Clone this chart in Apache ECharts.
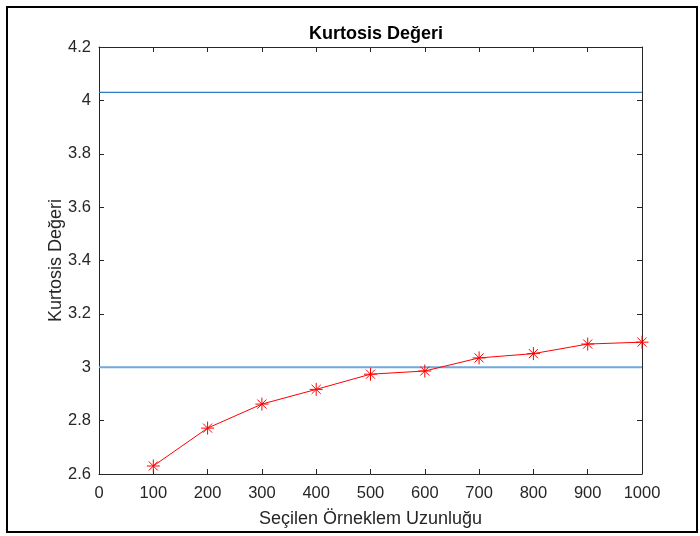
<!DOCTYPE html>
<html>
<head>
<meta charset="utf-8">
<script src="https://cdn.jsdelivr.net/npm/echarts@6/dist/echarts.min.js"></script>
<style>
  html, body { margin: 0; padding: 0; background: #fff; }
  #chart { width: 700px; height: 536px; }
</style>
</head>
<body>
<div id="chart"></div>
<script>
// Sample lengths and the kurtosis measured at each
const sampleLengths = [100, 200, 300, 400, 500, 600, 700, 800, 900, 1000];
const kurtosisValues = [2.630, 2.772, 2.862, 2.917, 2.974, 2.986, 3.035, 3.051, 3.087, 3.094];
// Reference levels drawn across the whole x range
const upperLevel = 4.03;
const normalLevel = 3.0;
const xRange = [0, 1000];
const yRange = [2.6, 4.2];

const axisColor = '#262626';
const font = 'Liberation Sans, Arial, sans-serif';

const chart = echarts.init(document.getElementById('chart'));

// Box axes with short ticks pointing into the plot
function lineStyle() {
  return { show: true, onZero: false, lineStyle: { color: axisColor, width: 1 } };
}
function tickStyle() {
  return { show: true, inside: true, length: 5, lineStyle: { color: axisColor, width: 1 } };
}
function baseX() {
  return {
    type: 'value', min: xRange[0], max: xRange[1], interval: 100,
    splitLine: { show: false }, axisLine: lineStyle(), axisTick: tickStyle()
  };
}
function baseY() {
  return {
    type: 'value', min: yRange[0], max: yRange[1], interval: 0.2,
    splitLine: { show: false }, axisLine: lineStyle(), axisTick: tickStyle()
  };
}

chart.setOption({
  animation: false,
  backgroundColor: '#fff',
  title: {
    text: 'Kurtosis Değeri',
    left: 371, top: 20, textAlign: 'center',
    textStyle: { fontFamily: font, fontSize: 18, fontWeight: 'bold', color: '#000' }
  },
  grid: { left: 99, top: 47, width: 543, height: 427 },
  graphic: [{
    type: 'rect',
    shape: { x: 7, y: 7, width: 690, height: 525 },
    style: { fill: 'none', stroke: '#000', lineWidth: 2 },
    silent: true
  }],
  xAxis: [
    Object.assign(baseX(), {
      position: 'bottom',
      name: 'Seçilen Örneklem Uzunluğu',
      nameLocation: 'middle', nameGap: 36, nameMoveOverlap: false,
      nameTextStyle: { fontFamily: font, fontSize: 18, color: axisColor },
      axisLabel: {
        fontFamily: font, fontSize: 16.5, color: axisColor, margin: 11,
        formatter: v => String(v)
      }
    }),
    Object.assign(baseX(), { position: 'top', axisLabel: { show: false } })
  ],
  yAxis: [
    Object.assign(baseY(), {
      position: 'left',
      name: 'Kurtosis Değeri',
      nameLocation: 'middle', nameGap: 34, nameMoveOverlap: false,
      nameTextStyle: { fontFamily: font, fontSize: 18, color: axisColor },
      axisLabel: {
        fontFamily: font, fontSize: 16.5, color: axisColor, margin: 8,
        formatter: v => String(Math.round(v * 10) / 10)
      }
    }),
    Object.assign(baseY(), { position: 'right', axisLabel: { show: false } })
  ],
  series: [
    {
      type: 'line',
      data: xRange.map(x => [x, upperLevel]),
      showSymbol: false, silent: true,
      lineStyle: { color: '#2d7cc0', width: 1.2 }
    },
    {
      type: 'line',
      data: xRange.map(x => [x, normalLevel]),
      showSymbol: false, silent: true,
      lineStyle: { color: '#6faadc', width: 2 }
    },
    {
      type: 'line',
      data: sampleLengths.map((x, i) => [x, kurtosisValues[i]]),
      symbol: 'path://M0,-10L0,10M-10,0L10,0M-7,-7L7,7M-7,7L7,-7',
      symbolSize: 13,
      showSymbol: true,
      clip: false,
      itemStyle: { color: 'none', borderColor: '#ff0000', borderWidth: 1 },
      lineStyle: { color: '#ff0000', width: 1 },
      z: 5
    }
  ]
});
</script>
</body>
</html>
